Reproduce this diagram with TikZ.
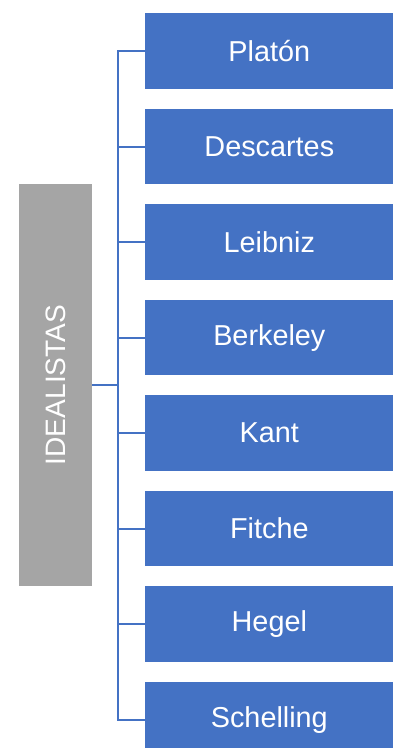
\documentclass[tikz,border=0pt]{standalone}
\usepackage{fontspec}
\setmainfont{Liberation Sans}
\definecolor{boxblue}{RGB}{68, 114, 196}
\definecolor{rootgray}{RGB}{165, 165, 165}
\usetikzlibrary{positioning}

\begin{document}
\begin{tikzpicture}[
    x=0.02cm, y=-0.02cm,
    namebox/.style={fill=boxblue, text=white, minimum width=4.96cm, minimum height=1.51cm,
      inner sep=0pt, anchor=north west, font=\fontsize{16.4}{19}\selectfont},
    rootbox/.style={fill=rootgray, text=white, minimum width=8.04cm, minimum height=1.46cm,
      inner sep=0pt, rotate=90, font=\fontsize{16}{19}\selectfont},
    branch/.style={draw=boxblue, line width=1.2pt}
  ]
  \clip (0,0) rectangle (393,748);

  % root
  \node[rootbox] (idealistas) at (55.5, 385) {IDEALISTAS};
  \coordinate (hub) at (118, 385);

  % philosophers
  \node[namebox] (platon)    at (145, 13)    {Platón};
  \node[namebox] (descartes) at (145, 108.5) {Descartes};
  \node[namebox] (leibniz)   at (145, 204)   {Leibniz};
  \node[namebox] (berkeley)  at (145, 299.5) {Berkeley};
  \node[namebox] (kant)      at (145, 395)   {Kant};
  \node[namebox] (fitche)    at (145, 490.5) {Fitche};
  \node[namebox] (hegel)     at (145, 586)   {Hegel};
  \node[namebox] (schelling) at (145, 681.5) {Schelling};

  % connectors
  \draw[branch] (idealistas.south) -- (hub);
  \draw[branch] (platon.west) -| (hub);
  \draw[branch] (descartes.west) -| (hub);
  \draw[branch] (leibniz.west) -| (hub);
  \draw[branch] (berkeley.west) -| (hub);
  \draw[branch] (kant.west) -| (hub);
  \draw[branch] (fitche.west) -| (hub);
  \draw[branch] (hegel.west) -| (hub);
  \draw[branch] (schelling.west) -| (hub);
\end{tikzpicture}
\end{document}
